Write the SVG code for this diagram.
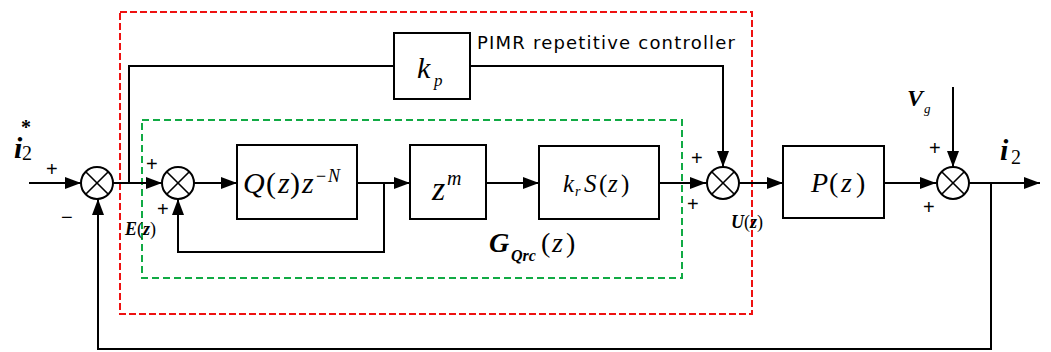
<svg xmlns="http://www.w3.org/2000/svg" width="1051" height="352" viewBox="0 0 1051 352">
  <style>
    .blk { fill: #fff; stroke: #000; stroke-width: 2; }
    .sum { fill: #fff; stroke: #000; stroke-width: 2; }
    .wire { fill: none; stroke: #000; stroke-width: 2; }
    .sign { font-family: 'Liberation Sans', Arial, sans-serif; font-size: 20px; fill: #000; }
    .lbl { font-family: 'DejaVu Sans', sans-serif; font-size: 18px; fill: #000; }
  </style>
  <defs>
    <marker id="arr" markerWidth="16" markerHeight="12" refX="16" refY="6" orient="auto" markerUnits="userSpaceOnUse">
      <path d="M0,0 L16,6 L0,12 Z" fill="#000"/>
    </marker>
    <symbol id="cross" overflow="visible">
      <circle cx="0" cy="0" r="16" class="sum"/>
      <path d="M-11.3,-11.3 L11.3,11.3 M-11.3,11.3 L11.3,-11.3" stroke="#000" stroke-width="1.6"/>
    </symbol>
  </defs>

  <!-- controller frames -->
  <g id="frames">
    <rect x="120" y="12" width="632" height="302" fill="none" stroke="#ee1111" stroke-width="2" stroke-dasharray="7 3"/>
    <rect x="142" y="120" width="540" height="158" fill="none" stroke="#11aa44" stroke-width="2" stroke-dasharray="7 4"/>
  </g>

  <!-- connectors -->
  <g id="connectors">
    <line class="wire" x1="29" y1="183" x2="81" y2="183" marker-end="url(#arr)"/>
    <line class="wire" x1="113" y1="183" x2="162" y2="183" marker-end="url(#arr)"/>
    <polyline class="wire" points="129,183 129,66 394,66"/>
    <polyline class="wire" points="470,66 723,66 723,167" marker-end="url(#arr)"/>
    <line class="wire" x1="194" y1="183" x2="237" y2="183" marker-end="url(#arr)"/>
    <line class="wire" x1="357" y1="183" x2="410" y2="183" marker-end="url(#arr)"/>
    <polyline class="wire" points="384,183 384,252 178,252 178,199" marker-end="url(#arr)"/>
    <line class="wire" x1="486" y1="183" x2="539" y2="183" marker-end="url(#arr)"/>
    <line class="wire" x1="659" y1="183" x2="706" y2="183" marker-end="url(#arr)"/>
    <line class="wire" x1="739" y1="183" x2="783" y2="183" marker-end="url(#arr)"/>
    <line class="wire" x1="884" y1="183" x2="936" y2="183" marker-end="url(#arr)"/>
    <line class="wire" x1="953" y1="87" x2="953" y2="167" marker-end="url(#arr)"/>
    <line class="wire" x1="969" y1="183" x2="1040" y2="183" marker-end="url(#arr)"/>
    <polyline class="wire" points="991,183 991,349 98,349 98,199" marker-end="url(#arr)"/>
  </g>

  <!-- summing junctions -->
  <g id="sum1">
    <use href="#cross" x="97" y="183"/>
    <text class="sign" x="46" y="176">+</text>
    <text class="sign" x="61" y="224">−</text>
  </g>
  <g id="sum2">
    <use href="#cross" x="178" y="183"/>
    <text class="sign" x="146" y="171">+</text>
    <text class="sign" x="157" y="216">+</text>
  </g>
  <g id="sum3">
    <use href="#cross" x="723" y="183"/>
    <text class="sign" x="691" y="165">+</text>
    <text class="sign" x="687" y="211">+</text>
  </g>
  <g id="sum4">
    <use href="#cross" x="953" y="183"/>
    <text class="sign" x="929" y="155">+</text>
    <text class="sign" x="923" y="214">+</text>
  </g>

  <!-- math text is set in a Times-metric serif -->
  <g font-family="Liberation Serif, Times New Roman, serif" fill="#000">
    <g id="kp">
      <rect class="blk" x="394" y="33" width="76" height="66"/>
      <text font-style="italic" x="417" y="78" font-size="30">k</text>
      <text font-style="italic" x="434" y="86" font-size="17">p</text>
    </g>
    <g id="qz">
      <rect class="blk" x="237" y="145" width="120" height="74"/>
      <text font-size="30" y="193"><tspan font-style="italic" x="243">Q</tspan><tspan x="266">(</tspan><tspan font-style="italic" x="278">z</tspan><tspan x="290">)</tspan><tspan font-style="italic" x="302">z</tspan></text>
      <text font-size="18" y="182"><tspan x="316">−</tspan><tspan font-style="italic" x="328">N</tspan></text>
    </g>
    <g id="zm">
      <rect class="blk" x="410" y="145" width="76" height="74"/>
      <text font-style="italic" x="432" y="200" font-size="34">z</text>
      <text font-style="italic" x="447" y="185" font-size="20">m</text>
    </g>
    <g id="krs">
      <rect class="blk" x="539" y="146" width="120" height="73"/>
      <text font-style="italic" font-size="25" x="563" y="192">k</text>
      <text font-style="italic" font-size="14" x="575" y="196">r</text>
      <text font-size="25" y="192"><tspan font-style="italic" x="584">S</tspan><tspan x="599">(</tspan><tspan font-style="italic" x="608">z</tspan><tspan x="621">)</tspan></text>
    </g>
    <g id="pz">
      <rect class="blk" x="783" y="146" width="101" height="72"/>
      <text font-size="28" y="192"><tspan font-style="italic" x="811">P</tspan><tspan x="829">(</tspan><tspan font-style="italic" x="841">z</tspan><tspan x="856">)</tspan></text>
    </g>

    <g id="labels">
      <text font-style="italic" font-weight="bold" font-size="30" x="14" y="158">i</text>
      <text font-size="20" x="22" y="160">2</text>
      <text font-weight="bold" font-size="20" x="21" y="134">*</text>
      <text font-style="italic" font-weight="bold" font-size="30" x="1000" y="160">i</text>
      <text font-size="20" x="1011" y="164">2</text>
      <text font-style="italic" font-weight="bold" font-size="24" x="907" y="106">V</text>
      <text font-style="italic" font-size="13" x="924" y="113">g</text>
      <text font-style="italic" font-weight="bold" font-size="18" x="125" y="235">E<tspan font-style="normal" font-weight="normal">(</tspan>z<tspan font-style="normal" font-weight="normal">)</tspan></text>
      <text font-style="italic" font-weight="bold" font-size="18" x="731" y="228">U<tspan font-style="normal" font-weight="normal">(</tspan>z<tspan font-style="normal" font-weight="normal">)</tspan></text>
      <text font-style="italic" font-weight="bold" font-size="28" x="489" y="252">G</text>
      <text font-style="italic" font-weight="bold" font-size="16" x="511" y="261">Qrc</text>
      <text font-size="28" y="252"><tspan x="541">(</tspan><tspan font-style="italic" x="552">z</tspan><tspan x="566">)</tspan></text>
    </g>
  </g>

  <text class="lbl" x="477" y="49" textLength="258">PIMR repetitive controller</text>
</svg>
